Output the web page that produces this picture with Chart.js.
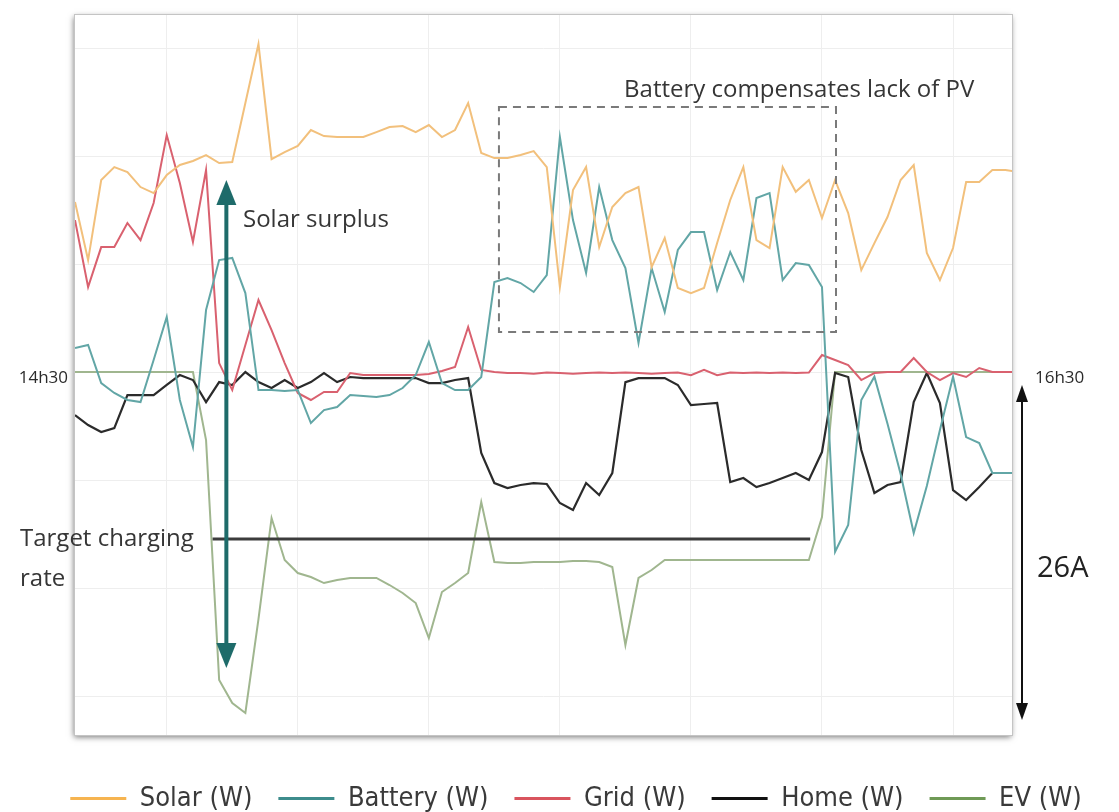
<!DOCTYPE html>
<html><head><meta charset="utf-8">
<script src="https://cdn.jsdelivr.net/npm/chart.js@4"></script>
<style>html,body{margin:0;padding:0;background:#fff;}canvas{display:block;}</style>
</head><body>
<canvas id="c" width="1119" height="812"></canvas>
<script>
// Values in W, one sample per step (index 0..72)
const seriesNames = ['Solar (W)', 'Battery (W)', 'Grid (W)', 'Home (W)', 'EV (W)'];
const solar = [1574,1037,1778,1898,1852,1713,1657,1824,1917,1954,
  2009,1935,1944,2491,3037,1972,2037,2093,2241,2185,
  2176,2176,2176,2222,2269,2278,2222,2287,2176,2241,
  2491,2028,1981,1981,2009,2046,1898,787,1685,1898,
  1157,1528,1657,1713,972,1241,778,731,778,1194,
  1593,1898,1222,1148,1898,1669,1778,1426,1778,1472,
  944,1194,1435,1778,1917,1102,852,1148,1759,1759,
  1870,1870,1852];
const battery = [222,250,-102,-194,-259,-278,111,509,-259,-694,
  574,1037,1056,731,-167,-167,-176,-167,-472,-352,
  -324,-213,-222,-231,-213,-148,-28,278,-102,-167,
  -167,-46,833,870,824,741,898,2176,1407,917,
  1713,1222,963,269,963,556,1130,1296,1296,759,
  1111,852,1611,1657,852,1009,991,787,-1664,-1417,
  -259,-43,-478,-944,-1491,-1056,-537,-43,-602,-657,
  -935,-935,-935];
const grid = [1407,787,1157,1157,1380,1222,1565,2194,1750,1204,
  1870,83,-167,250,667,389,83,-194,-259,-185,
  -185,-9,-28,-28,-28,-28,-28,-19,9,46,
  417,19,0,-10,-10,-15,-5,-10,-15,-10,
  -5,-10,-5,-10,-15,-10,-5,-30,20,-30,
  -5,-10,-5,-10,-5,-10,-5,157,111,65,
  -74,-9,0,0,130,0,-74,-9,-46,37,
  0,0,0];
const home = [-398,-491,-556,-519,-213,-213,-213,-120,-28,-74,
  -278,-93,-120,0,-93,-148,-74,-148,-93,-9,
  -93,-46,-56,-56,-56,-56,-56,-102,-102,-74,
  -56,-750,-1028,-1074,-1046,-1028,-1037,-1213,-1278,-1028,
  -1139,-935,-93,-56,-56,-56,-120,-306,-296,-287,
  -1019,-981,-1065,-1028,-981,-935,-1000,-741,-9,-46,
  -722,-1120,-1046,-1019,-278,-9,-287,-1093,-1185,-1065,
  -935,-935,-935];
const ev = [0,0,0,0,0,0,0,0,0,0,
  -630,-2852,-3065,-3157,-2287,-1352,-1741,-1861,-1898,-1954,
  -1926,-1907,-1907,-1907,-1972,-2046,-2139,-2463,-2037,-1954,
  -1861,-1204,-1759,-1769,-1769,-1759,-1759,-1759,-1750,-1750,
  -1759,-1806,-2528,-1907,-1833,-1741,-1741,-1741,-1741,-1741,
  -1741,-1741,-1741,-1741,-1741,-1741,-1741,-1343,0,0,
  0,0,0,0,0,0,0,0,0,0,
  0,0,0];
const gridTicksX = [7,17,27,37,47,57,67];
const gridTicksY = [-3000,-2000,-1000,0,1000,2000,3000];
const startLabel = '14h30', endLabel = '16h30';

const lineColors = ['#f2c07c','#62a6a6','#d9616f','#2b2b2b','#a0b68f'];
const legendColors = ['#f6b450','#3d8c8c','#d9545e','#111111','#6f9a56'];
const allSeries = [solar, battery, grid, home, ev];

const datasets = allSeries.map((arr, k) => ({
  label: seriesNames[k],
  data: arr.map((v, i) => ({x: i, y: v})),
  borderColor: lineColors[k],
  backgroundColor: legendColors[k],
  borderWidth: k === 3 ? 2.2 : 2,
  pointRadius: 0,
  tension: 0
}));

const TXT = '#363636';
const boxPlugin = {
  id: 'box',
  beforeDraw(chart) {
    const {ctx, chartArea: a} = chart;
    ctx.save();
    ctx.fillStyle = '#fff';
    ctx.fillRect(0, 0, chart.width, chart.height);
    ctx.shadowColor = 'rgba(0,0,0,0.55)';
    ctx.shadowBlur = 6; ctx.shadowOffsetX = -1; ctx.shadowOffsetY = 2;
    ctx.fillRect(a.left, a.top, a.right - a.left, a.bottom - a.top);
    ctx.restore();
    ctx.save();
    ctx.strokeStyle = '#c4c4c4'; ctx.lineWidth = 1;
    ctx.strokeRect(a.left - 0.5, a.top - 0.5, a.right - a.left + 1, a.bottom - a.top + 1);
    ctx.restore();
  }
};

function arrowHead(ctx, x, y, dir, w, h) {
  ctx.beginPath();
  ctx.moveTo(x, y);
  ctx.lineTo(x - w / 2, y + dir * h);
  ctx.lineTo(x + w / 2, y + dir * h);
  ctx.closePath();
  ctx.fill();
}

const notePlugin = {
  id: 'notes',
  afterDraw(chart) {
    const {ctx} = chart;
    const X = v => chart.scales.x.getPixelForValue(v);
    const Y = v => chart.scales.y.getPixelForValue(v);
    ctx.save();
    // dashed box
    ctx.setLineDash([8, 6]);
    ctx.strokeStyle = '#7a7a7a'; ctx.lineWidth = 2;
    ctx.strokeRect(X(32.35), Y(2454), X(58.07) - X(32.35), Y(370) - Y(2454));
    ctx.setLineDash([]);
    // target line
    ctx.strokeStyle = '#3c3c3c'; ctx.lineWidth = 3;
    ctx.beginPath(); ctx.moveTo(X(10.5), Y(-1546)); ctx.lineTo(X(56.1), Y(-1546)); ctx.stroke();
    // teal double arrow
    const ax = X(11.55), aTop = Y(1778), aBot = Y(-2741);
    ctx.strokeStyle = '#1e6b6a'; ctx.fillStyle = '#1e6b6a'; ctx.lineWidth = 4;
    ctx.beginPath(); ctx.moveTo(ax, aTop + 20); ctx.lineTo(ax, aBot - 20); ctx.stroke();
    arrowHead(ctx, ax, aTop, 1, 20, 25);
    arrowHead(ctx, ax, aBot, -1, 20, 25);
    // black double arrow (26A)
    const bx = 1022, bTop = Y(-120), bBot = Y(-3222);
    ctx.strokeStyle = '#111'; ctx.fillStyle = '#111'; ctx.lineWidth = 2;
    ctx.beginPath(); ctx.moveTo(bx, bTop + 14); ctx.lineTo(bx, bBot - 14); ctx.stroke();
    arrowHead(ctx, bx, bTop, 1, 12, 17);
    arrowHead(ctx, bx, bBot, -1, 12, 17);
    // texts
    ctx.fillStyle = TXT;
    ctx.textBaseline = 'alphabetic';
    ctx.font = '24px "Open Sans"';
    ctx.textAlign = 'left';
    ctx.fillText('Solar surplus', X(12.82), Y(1343));
    ctx.fillText('Battery compensates lack of PV', X(41.9), Y(2546));
    ctx.fillText('Target charging', 20, 546);
    ctx.fillText('rate', 20, 586);
    ctx.font = '29px "Open Sans"';
    ctx.fillStyle = '#222';
    ctx.fillText('26A', 1037, 577);
    ctx.font = '17px "Open Sans"';
    ctx.fillStyle = '#2a2a2a';
    ctx.textAlign = 'right';
    ctx.fillText(startLabel, 68, Y(0) + 11);
    ctx.textAlign = 'left';
    ctx.fillText(endLabel, 1035, Y(0) + 11);
    ctx.restore();
  }
};

new Chart(document.getElementById('c'), {
  type: 'line',
  data: {datasets},
  options: {
    responsive: false,
    animation: false,
    layout: {padding: {left: 33, right: 0, top: 15, bottom: -10}},
    scales: {
      x: {
        type: 'linear', min: 0, max: 71.5,
        afterBuildTicks: s => { s.ticks = gridTicksX.map(v => ({value: v})); },
        afterFit: s => { s.height = 24; },
        ticks: {display: false},
        grid: {color: '#eeeeee', drawTicks: false},
        border: {display: false}
      },
      y: {
        type: 'linear', min: -3361, max: 3306,
        afterBuildTicks: s => { s.ticks = gridTicksY.map(v => ({value: v})); },
        afterFit: s => { s.width = 42; },
        ticks: {display: false},
        grid: {color: '#eeeeee', drawTicks: false},
        border: {display: false}
      },
      yR: {
        type: 'linear', position: 'right',
        afterFit: s => { s.width = 107; },
        ticks: {display: false},
        grid: {display: false, drawTicks: false},
        border: {display: false}
      }
    },
    plugins: {
      tooltip: {enabled: false},
      legend: {
        position: 'bottom',
        labels: {
          boxWidth: 56, boxHeight: 3, padding: 26, color: '#3a3a3a',
          font: {family: '"DejaVu Sans Condensed", "DejaVu Sans"', size: 27},
          generateLabels: chart => Chart.defaults.plugins.legend.labels.generateLabels(chart)
            .map(it => Object.assign(it, {lineWidth: 0}))
        }
      }
    }
  },
  plugins: [boxPlugin, notePlugin]
});
</script>
</body></html>
